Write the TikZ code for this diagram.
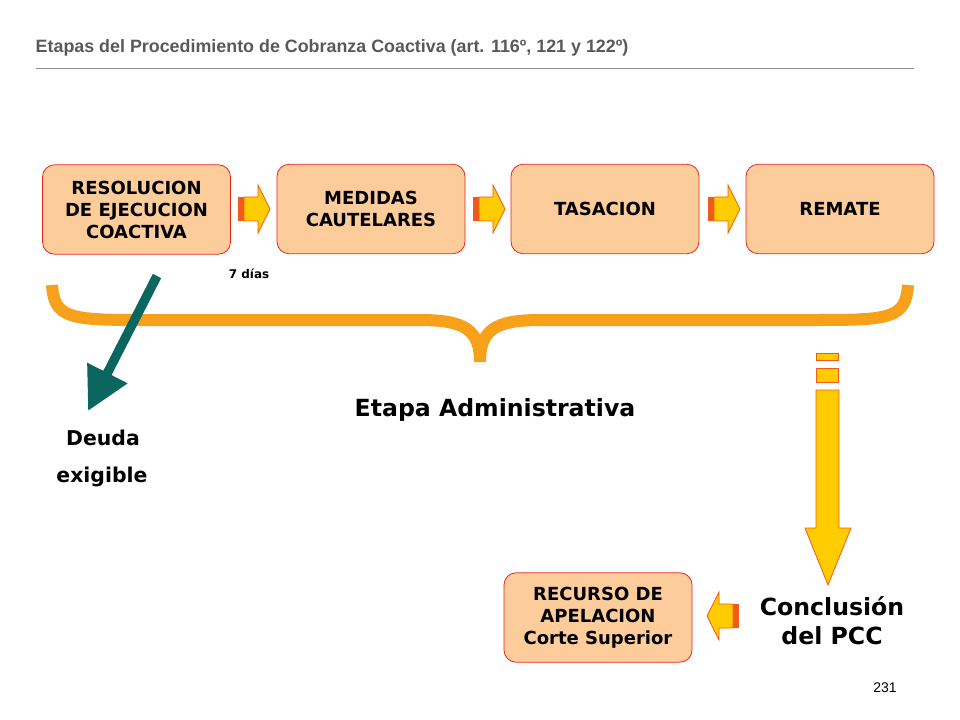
\documentclass[tikz,border=0pt]{standalone}
\usepackage{fontspec}
\setmainfont{DejaVu Sans}
\newfontfamily\arialf{Liberation Sans}
\usetikzlibrary{arrows.meta}
\definecolor{boxf}{HTML}{FCCC9A}
\definecolor{boxd}{HTML}{E8261C}
\definecolor{arrf}{HTML}{FFCC00}
\definecolor{arrd}{HTML}{F05A1A}
\definecolor{brace}{HTML}{F7A11A}
\definecolor{teal}{HTML}{0B6660}
\tikzset{
 stage/.style={draw=boxd,fill=boxf,rounded corners=9pt,minimum width=141pt,minimum height=67pt,align=center,font=\bfseries\fontsize{13.5}{16.5}\selectfont,line width=0.6pt},
 arr/.style={draw=arrd,fill=arrf,line width=0.6pt},
 lbl/.style={font=\bfseries, align=center}
}
\newcommand\stripedarrow[2]{% shift, rotation
\begin{scope}[shift={#1},rotate=#2]
 \fill[arrd] (-32,-12) rectangle (-26,12);
 \draw[arr] (-26,-12) -- (-12,-12) -- (-12,-24) -- (0,0) -- (-12,24) -- (-12,12) -- (-26,12) -- cycle;
\end{scope}}
\begin{document}
\begin{tikzpicture}[x=0.75pt,y=-0.75pt]
\useasboundingbox (0,0) rectangle (960,720);
\node[anchor=west,text=black!65,font=\arialf\fontsize{13.4}{15}\selectfont\bfseries] (title) at (31,48) {Etapas del Procedimiento de Cobranza Coactiva (art. 116º, 121 y 122º)};
\draw[black!45,line width=0.4pt] (36,68) -- (914,68);
\node[stage] (b1) at (136.5,209.5) {RESOLUCION\\DE EJECUCION\\COACTIVA};
\node[stage] (b2) at (371,209) {MEDIDAS\\CAUTELARES};
\node[stage] (b3) at (605,209) {TASACION};
\node[stage] (b4) at (840,209) {REMATE};
\node[stage] (b5) at (598,617.5) {RECURSO DE\\APELACION\\Corte Superior};
\stripedarrow{(270,209)}{0}
\stripedarrow{(505,209)}{0}
\stripedarrow{(740,209)}{0}
\stripedarrow{(707,616)}{180}
\node[font=\bfseries\fontsize{9}{10}\selectfont] (d7) at (249,274) {7 días};
\draw[brace,line width=9pt] (52,285) .. controls (54,318) and (70,320) .. (140,320) -- (420,320) .. controls (465,320) and (480,330) .. (480,362) .. controls (480,330) and (495,320) .. (540,320) -- (820,320) .. controls (890,320) and (906,318) .. (908,285);
\node[font=\bfseries\fontsize{17.7}{20}\selectfont] (ea) at (495,410) {Etapa Administrativa};
\coordinate (ts) at (157,276);
\coordinate (te) at (88,411);
\draw[teal,line width=7pt,-{Triangle[length=32pt,width=32pt]}] (ts) -- (te);
\node[lbl,font=\bfseries\fontsize{15.3}{17}\selectfont] (deu) at (103,438) {Deuda};
\node[lbl,font=\bfseries\fontsize{15.3}{17}\selectfont] (exi) at (102,477) {exigible};
\fill[arrf,draw=arrd,line width=0.6pt] (816,353) rectangle (838,360);
\fill[arrf,draw=arrd,line width=0.6pt] (816,368) rectangle (838,382);
\draw[arr] (816,390) -- (839,390) -- (839,528) -- (851,528) -- (828,585) -- (805,528) -- (816,528) -- cycle;
\node[lbl,font=\bfseries\fontsize{17.7}{22}\selectfont] (con) at (832,621) {Conclusión\\del PCC};
\node[font=\arialf\fontsize{10.5}{12}\selectfont] (pg) at (885,688) {231};
\end{tikzpicture}
\end{document}
